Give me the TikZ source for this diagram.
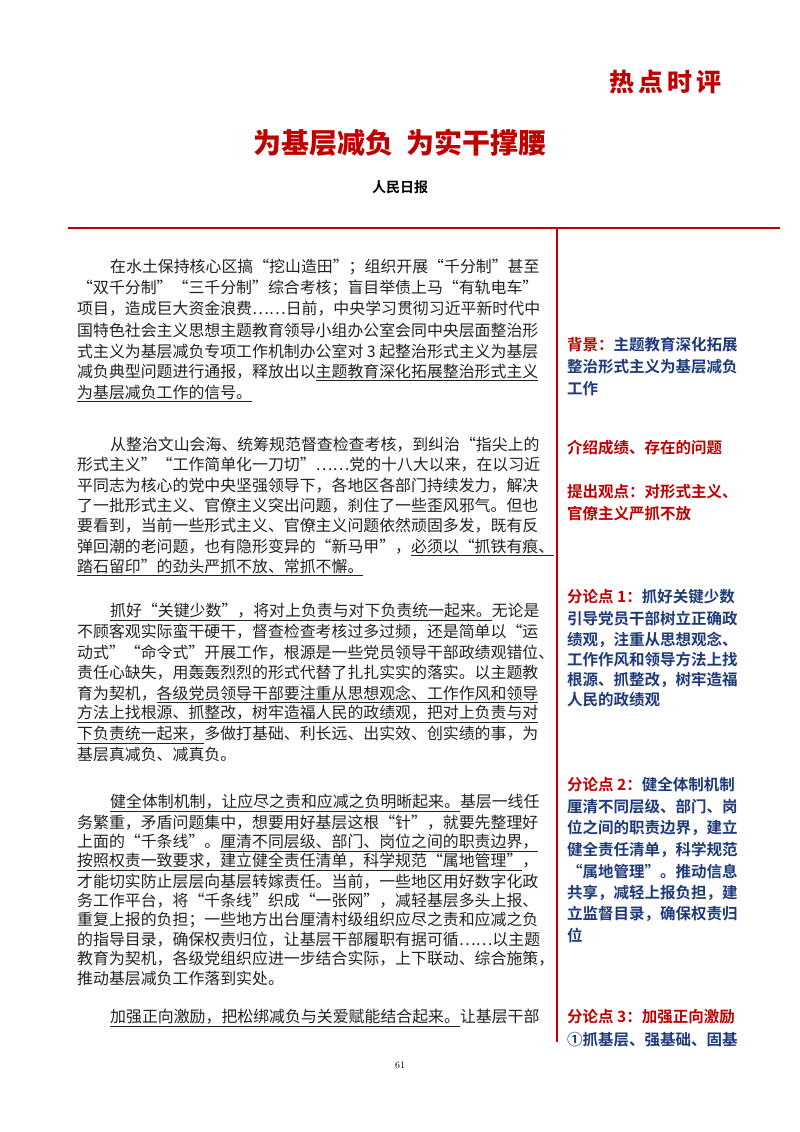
\documentclass[tikz,border=0pt]{standalone}
\usepackage{fontspec}
\newfontfamily\bodyf{Noto Sans CJK SC}
\newfontfamily\sidef{Noto Sans CJK SC Bold}
\newfontfamily\headf{Noto Sans CJK SC Black}
\newfontfamily\boldf{Noto Sans CJK SC Bold}
\definecolor{pred}{HTML}{C00000}
\definecolor{sblue}{HTML}{1F3A7A}
\definecolor{btxt}{HTML}{222222}
\newcommand\ML[4]{\node[mtxt] (#1) at (#2pt,-#3pt) {#4};}
\newcommand\SL[4]{\node[stxt] (#1) at (#2pt,-#3pt) {#4};}
\newcommand\ul[1]{\underline{#1}}
\newcommand\rl[1]{\textcolor{pred}{#1}}
\begin{document}
\begin{tikzpicture}[x=1pt,y=1pt,
  mtxt/.style={anchor=west,inner sep=0pt,font=\bodyf\fontsize{15.9}{20}\selectfont,text=btxt},
  stxt/.style={anchor=west,inner sep=0pt,font=\sidef\fontsize{15.5}{18}\selectfont,text=sblue},
  rule/.style={draw=pred,line width=2.2pt}]
\useasboundingbox (0,0) rectangle (800,-1132);
\fill[white] (0,0) rectangle (800,-1132);
\node[anchor=east,inner sep=0pt,font=\headf\fontsize{25}{28}\selectfont,text=pred] (hot) at (722,-82) {热\,点\,时\,评};
\node[inner sep=0pt,font=\headf\fontsize{28}{32}\selectfont,text=pred] (title) at (400,-143) {为基层减负\ \ 为实干撑腰};
\node[inner sep=0pt,font=\boldf\fontsize{14}{16}\selectfont] (src) at (400,-187) {人民日报};
\coordinate (hl) at (68,-228); \coordinate (hr) at (780,-228);
\coordinate (vt) at (557,-228); \coordinate (vb) at (557,-1042);
\draw[rule] (hl) -- (hr);
\draw[rule] (vt) -- (vb);
% paragraph 1
\ML{a1}{110}{267}{在水土保持核心区搞“挖山造田”；组织开展“千分制”甚至}
\ML{a2}{77}{288}{“双千分制”“三千分制”综合考核；盲目举债上马“有轨电车”}
\ML{a3}{77}{309}{项目，造成巨大资金浪费……日前，中央学习贯彻习近平新时代中}
\ML{a4}{77}{330}{国特色社会主义思想主题教育领导小组办公室会同中央层面整治形}
\ML{a5}{77}{351}{式主义为基层减负专项工作机制办公室对 3 起整治形式主义为基层}
\ML{a6}{77}{372}{减负典型问题进行通报，释放出以\ul{主题教育深化拓展整治形式主义}}
\ML{a7}{77}{393}{\ul{为基层减负工作的信号。}}
% paragraph 2
\ML{b1}{110}{445}{从整治文山会海、统筹规范督查检查考核，到纠治“指尖上的}
\ML{b2}{77}{465}{形式主义”“工作简单化一刀切”……党的十八大以来，在以习近}
\ML{b3}{77}{486}{平同志为核心的党中央坚强领导下，各地区各部门持续发力，解决}
\ML{b4}{77}{506}{了一批形式主义、官僚主义突出问题，刹住了一些歪风邪气。但也}
\ML{b5}{77}{526}{要看到，当前一些形式主义、官僚主义问题依然顽固多发，既有反}
\ML{b6}{77}{547}{弹回潮的老问题，也有隐形变异的“新马甲”，\ul{必须以“抓铁有痕、}}
\ML{b7}{77}{567}{\ul{踏石留印”的劲头严抓不放、常抓不懈。}}
% paragraph 3
\ML{c1}{110}{612}{\ul{抓好“关键少数”，将对上负责与对下负责统一起来。}无论是}
\ML{c2}{77}{632}{不顾客观实际蛮干硬干，督查检查考核过多过频，还是简单以“运}
\ML{c3}{77}{653}{动式”“命令式”开展工作，根源是一些党员领导干部政绩观错位、}
\ML{c4}{77}{673}{责任心缺失，用轰轰烈烈的形式代替了扎扎实实的落实。以主题教}
\ML{c5}{77}{694}{育为契机，\ul{各级党员领导干部要注重从思想观念、工作作风和领导}}
\ML{c6}{77}{714}{\ul{方法上找根源、抓整改，树牢造福人民的政绩观，把对上负责与对}}
\ML{c7}{77}{735}{\ul{下负责统一起来，}多做打基础、利长远、出实效、创实绩的事，为}
\ML{c8}{77}{755}{基层真减负、减真负。}
% paragraph 4
\ML{d1}{110}{803}{\ul{健全体制机制，让应尽之责和应减之负明晰起来。}基层一线任}
\ML{d2}{77}{823}{务繁重，矛盾问题集中，想要用好基层这根“针”，就要先整理好}
\ML{d3}{77}{843}{上面的“千条线”。\ul{厘清不同层级、部门、岗位之间的职责边界，}}
\ML{d4}{77}{862}{\ul{按照权责一致要求，建立健全责任清单，科学规范“属地管理”}，}
\ML{d5}{77}{882}{才能切实防止层层向基层转嫁责任。当前，一些地区用好数字化政}
\ML{d6}{77}{901}{务工作平台，将“千条线”织成“一张网”，减轻基层多头上报、}
\ML{d7}{77}{920}{重复上报的负担；一些地方出台厘清村级组织应尽之责和应减之负}
\ML{d8}{77}{940}{的指导目录，确保权责归位，让基层干部履职有据可循……以主题}
\ML{d9}{77}{959}{教育为契机，各级党组织应进一步结合实际，上下联动、综合施策，}
\ML{d10}{77}{978}{推动基层减负工作落到实处。}
% paragraph 5
\ML{e1}{110}{1018}{\ul{加强正向激励，把松绑减负与关爱赋能结合起来。}让基层干部}
% side notes
\SL{s1}{567}{345}{\rl{背景：}主题教育深化拓展}
\SL{s2}{567}{367}{整治形式主义为基层减负}
\SL{s3}{567}{389}{工作}
\SL{s4}{567}{448}{\rl{介绍成绩、存在的问题}}
\SL{s5}{567}{492}{\rl{提出观点：对形式主义、}}
\SL{s6}{567}{514}{\rl{官僚主义严抓不放}}
\SL{s7}{567}{597}{\rl{分论点 1：}抓好关键少数}
\SL{s8}{567}{619}{引导党员干部树立正确政}
\SL{s9}{567}{640}{绩观，注重从思想观念、}
\SL{s10}{567}{660}{工作作风和领导方法上找}
\SL{s11}{567}{680}{根源、抓整改，树牢造福}
\SL{s12}{567}{700}{人民的政绩观}
\SL{s13}{567}{785}{\rl{分论点 2：}健全体制机制}
\SL{s14}{567}{807}{厘清不同层级、部门、岗}
\SL{s15}{567}{828}{位之间的职责边界，建立}
\SL{s16}{567}{850}{健全责任清单，科学规范}
\SL{s17}{567}{872}{“属地管理”。推动信息}
\SL{s18}{567}{893}{共享，减轻上报负担，建}
\SL{s19}{567}{914}{立监督目录，确保权责归}
\SL{s20}{567}{935}{位}
\SL{s21}{567}{1017}{\rl{分论点 3：加强正向激励}}
\SL{s22}{567}{1040}{①抓基层、强基础、固基}
\node[inner sep=0pt,font=\fontsize{10}{12}\selectfont] (pg) at (400,-1065) {61};
\end{tikzpicture}
\end{document}
